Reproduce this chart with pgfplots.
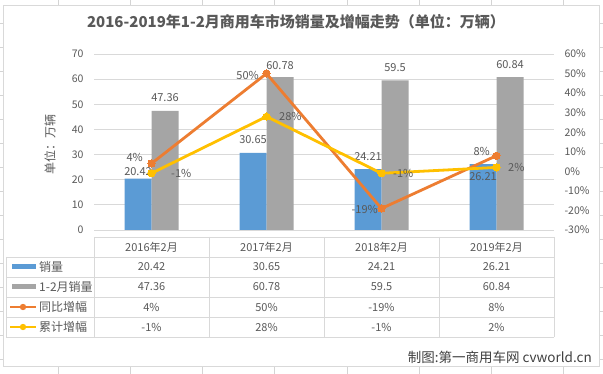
\documentclass[border=0pt]{standalone}
\usepackage{fontspec}
\setmainfont{Noto Sans CJK SC}
\usepackage{pgfplots}
\pgfplotsset{compat=1.18}
\definecolor{cblue}{HTML}{5B9BD5}
\definecolor{cgray}{HTML}{A5A5A5}
\definecolor{corange}{HTML}{ED7D31}
\definecolor{cyellow}{HTML}{FFC000}
\definecolor{cgrid}{HTML}{D9D9D9}
\definecolor{csheet}{HTML}{D4D4D4}
\definecolor{ctext}{HTML}{595959}
\begin{document}
\begin{tikzpicture}[x=1pt,y=1pt]
\path[use as bounding box] (0,0) rectangle (603,374);
% sheet grid
\foreach \xx in {58,130,202,274,347,419,491,563} \draw[csheet,line width=0.75pt] (\xx,0)--(\xx,374);
\foreach \yy in {351,327,303,279,255,231,207,183,159,135,111,87,63,39,15} \draw[csheet,line width=0.75pt] (0,\yy)--(603,\yy);
\filldraw[fill=white, draw=cgrid, line width=0.75pt] (3,8) rectangle (599,369);
% title
\node[font=\fontsize{15}{17}\selectfont\bfseries, text=ctext] at (296,352) {2016-2019年1-2月商用车市场销量及增幅走势（单位：万辆）};
% y label
\node[font=\fontsize{12}{14}\selectfont, text=ctext, rotate=90] at (50,229) {单位：万辆};
% left axis
\begin{axis}[at={(94pt,144pt)}, anchor=south west, scale only axis,
  width=460pt, height=176pt, xmin=-0.5, xmax=3.5, ymin=0, ymax=70,
  ytick={0,10,...,70}, xtick=\empty, ymajorgrids,
  grid style={cgrid, line width=0.75pt}, axis line style={draw=none},
  major tick length=0pt,
  yticklabel style={font=\fontsize{10.5}{12}\selectfont, text=ctext, xshift=-7pt},
  /pgf/number format/assume math mode=true, clip=false]
\addplot[ybar, bar width=27pt, bar shift=-13.5pt, fill=cblue, draw=none] coordinates {(0,20.42)(1,30.65)(2,24.21)(3,26.21)};
\addplot[ybar, bar width=27pt, bar shift=13.5pt, fill=cgray, draw=none] coordinates {(0,47.36)(1,60.78)(2,59.5)(3,60.84)};
\tikzset{lbl/.style={font=\fontsize{11}{13}\selectfont, text=ctext, inner sep=0pt}}
\node[lbl] at (axis cs:0,20.42) [xshift=-13.5pt, yshift=7pt] {20.42};
\node[lbl] at (axis cs:1,30.65) [xshift=-13.5pt, yshift=13pt] {30.65};
\node[lbl] at (axis cs:2,24.21) [xshift=-13.5pt, yshift=13pt] {24.21};
\node[lbl] at (axis cs:3,26.21) [xshift=-13.5pt, yshift=-12pt] {26.21};
\node[lbl] at (axis cs:0,47.36) [xshift=13.5pt, yshift=13pt] {47.36};
\node[lbl] at (axis cs:1,60.78) [xshift=13.5pt, yshift=12pt] {60.78};
\node[lbl] at (axis cs:2,59.5) [xshift=13.5pt, yshift=13pt] {59.5};
\node[lbl] at (axis cs:3,60.84) [xshift=13.5pt, yshift=12pt] {60.84};
\end{axis}
% right axis
\begin{axis}[at={(94pt,144pt)}, anchor=south west, scale only axis,
  width=460pt, height=176pt, xmin=-0.5, xmax=3.5, ymin=-30, ymax=60,
  ytick={-30,-20,...,60}, xtick=\empty, axis y line*=right, axis x line=none,
  axis line style={draw=none}, major tick length=0pt,
  yticklabel={\pgfmathprintnumber{\tick}\%},
  yticklabel style={font=\fontsize{10.5}{12}\selectfont, text=ctext, xshift=7pt},
  /pgf/number format/assume math mode=true, clip=false]
\addplot[corange, line width=2.8pt, mark=*, mark size=3.6pt, mark options={fill=corange, draw=corange, line width=0pt}] coordinates {(0,4)(1,50)(2,-19)(3,8)};
\addplot[cyellow, line width=2.8pt, mark=*, mark size=3.6pt, mark options={fill=cyellow, draw=cyellow, line width=0pt}] coordinates {(0,-1)(1,28)(2,-1)(3,2)};
\tikzset{lbl/.style={font=\fontsize{11}{13}\selectfont, text=ctext, inner sep=0pt}}
\node[lbl, anchor=east] at (axis cs:0,4) [xshift=-8.5pt, yshift=6pt] {4\%};
\node[lbl, anchor=east] at (axis cs:1,50) [xshift=-7.5pt, yshift=-2pt] {50\%};
\node[lbl, anchor=east] at (axis cs:2,-19) [xshift=-3.5pt, yshift=-1pt] {-19\%};
\node[lbl, anchor=east] at (axis cs:3,8) [xshift=-6.5pt, yshift=4pt] {8\%};
\node[lbl, anchor=west] at (axis cs:0,-1) [xshift=19.5pt] {-1\%};
\node[lbl, anchor=west] at (axis cs:1,28) [xshift=12.5pt] {28\%};
\node[lbl, anchor=west] at (axis cs:2,-1) [xshift=11.5pt] {-1\%};
\node[lbl, anchor=west] at (axis cs:3,2) [xshift=11.5pt] {2\%};
\end{axis}
% data table
\begin{scope}[cgrid, line width=0.75pt]
\draw (94,137)--(554,137);
\foreach \yy in {117,97,77,57,37} \draw (6,\yy)--(554,\yy);
\draw (6,117)--(6,37);
\foreach \xx in {94,209,324,439,554} \draw (\xx,137)--(\xx,37);
\end{scope}
\tikzset{tbl/.style={font=\fontsize{11}{13}\selectfont, text=ctext}}
\foreach \xx/\t in {151.5/2016年2月,266.5/2017年2月,381.5/2018年2月,496.5/2019年2月} \node[tbl] at (\xx,127) {\t};
\foreach \xx/\t in {151.5/20.42,266.5/30.65,381.5/24.21,496.5/26.21} \node[tbl] at (\xx,107) {\t};
\foreach \xx/\t in {151.5/47.36,266.5/60.78,381.5/59.5,496.5/60.84} \node[tbl] at (\xx,87) {\t};
\foreach \xx/\t in {151.5/4\%,266.5/50\%,381.5/-19\%,496.5/8\%} \node[tbl] at (\xx,67) {\t};
\foreach \xx/\t in {151.5/-1\%,266.5/28\%,381.5/-1\%,496.5/2\%} \node[tbl] at (\xx,47) {\t};
% legend keys
\fill[cblue] (12,104.5) rectangle (36,109.5);
\fill[cgray] (12,84.5) rectangle (36,89.5);
\draw[corange, line width=2.5pt] (10,67)--(36,67);
\fill[corange] (23,67) circle (3.2pt);
\draw[cyellow, line width=2.5pt] (10,47)--(36,47);
\fill[cyellow] (23,47) circle (3.2pt);
\tikzset{rl/.style={font=\fontsize{12}{14}\selectfont, text=ctext, anchor=west, inner sep=0pt}}
\node[rl] at (39,107) {销量};
\node[rl] at (39,87) {1-2月销量};
\node[rl] at (39,67) {同比增幅};
\node[rl] at (39,47) {累计增幅};
% source
\node[font=\fontsize{13.5}{15}\selectfont, text=black!75, anchor=east, inner sep=0pt] at (592,17) {制图:第一商用车网 cvworld.cn};
\end{tikzpicture}
\end{document}
